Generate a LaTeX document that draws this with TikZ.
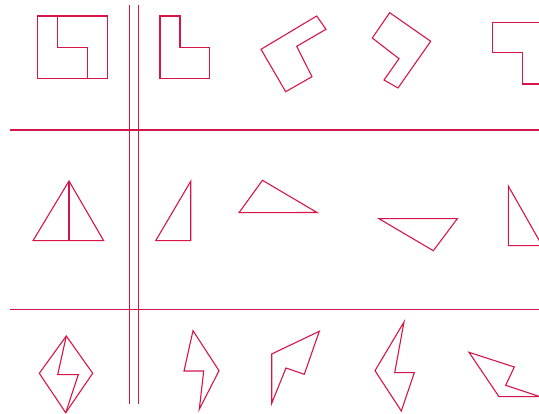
\documentclass[tikz,border=0pt]{standalone}
\definecolor{crim}{RGB}{214,22,72}
\begin{document}
\begin{tikzpicture}[x=1pt,y=-1pt,
  shp/.style={draw=crim,line width=1.1pt,line join=miter},
  rule/.style={draw=crim,line width=1.1pt}]
\useasboundingbox (0,0) rectangle (539,414);
\clip (0,0) rectangle (539,414);
% grid lines
\draw[rule] (129.7,5) -- (129.7,404.3);
\draw[rule] (138.3,5) -- (138.3,404.3);
\draw[rule] (10,130) -- (545,130);
\draw[rule] (10,309.7) -- (545,309.7);
% row 1
\draw[shp] (37.3,16) rectangle (107.3,78.3);
\draw[shp] (57.7,16) -- (57.7,47.7) -- (87.3,47.7) -- (87.3,78.3);
\draw[shp] (160,16) -- (180,16) -- (180,47.7) -- (209.7,47.7) -- (209.7,78.3) -- (160,78.3) -- cycle;
\draw[shp] (261,49.3) -- (316.7,16) -- (326,29.3) -- (296.7,46.3) -- (312,76.7) -- (285.7,91.7) -- cycle;
\draw[shp] (389.7,12.7) -- (430.7,41.3) -- (398,88) -- (384,80) -- (399,58.7) -- (372.3,38) -- cycle;
\draw[shp] (560,22.3) -- (492.3,22.3) -- (492.3,52.3) -- (522.3,52.3) -- (522.3,84) -- (560,84);
% row 2
\draw[shp] (69,181) -- (33,240.7) -- (103.7,240.7) -- cycle;
\draw[shp] (69,181) -- (69,240.7);
\draw[shp] (190.7,181.3) -- (155.7,240.7) -- (190.7,240.7) -- cycle;
\draw[shp] (239,212.7) -- (262.5,180.3) -- (317,212.5) -- cycle;
\draw[shp] (379,218.7) -- (457.3,218.7) -- (433.3,250.7) -- cycle;
\draw[shp] (508.3,186) -- (508.3,245.7) -- (542.2,245.7) -- cycle;
% row 3
\draw[shp] (66.3,336) -- (92.7,373.3) -- (65.7,412.7) -- (39.3,373.3) -- cycle;
\draw[shp] (66.3,336) -- (57.7,374.7) -- (78.3,374.7) -- (65.7,412.7);
\draw[shp] (193,330.7) -- (219,370.7) -- (199.3,409.3) -- (203.7,371) -- (184,371) -- cycle;
\draw[shp] (271.7,354) -- (319.3,331.3) -- (304.3,374.3) -- (286,368) -- (271.7,403.3) -- cycle;
\draw[shp] (404,322) -- (394.7,372.7) -- (414.3,372.7) -- (401.3,411) -- (375,370.7) -- cycle;
\draw[shp] (469,352.3) -- (514.3,367) -- (505.7,385.3) -- (540,396.7) -- (499,396.7) -- cycle;
\end{tikzpicture}
\end{document}
